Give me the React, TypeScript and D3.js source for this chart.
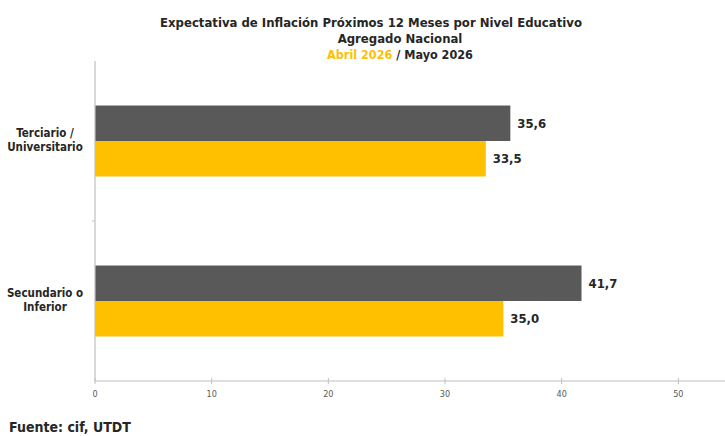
import React from "react";
import * as d3 from "d3";

const categories = ["Terciario /\nUniversitario", "Secundario o\nInferior"];
const seriesNames = ["Mayo 2026", "Abril 2026"];
const mayoValues = [35.6, 41.7];
const abrilValues = [33.5, 35.0];
const xTicks = [0, 10, 20, 30, 40, 50];
const seriesColors = ["#595959", "#FFC000"];

const W = 725;
const H = 436;
const FONT = "'DejaVu Sans Condensed', 'DejaVu Sans', sans-serif";

export default function App() {
  const x = d3.scaleLinear().domain([0, 54]).range([95, 725]);
  const y = d3.scaleBand<string>().domain(categories).range([61, 381]).paddingInner(0).paddingOuter(0);
  const y1 = d3
    .scaleBand<string>()
    .domain(seriesNames)
    .range([0, y.bandwidth()])
    .paddingInner(0)
    .paddingOuter(1.254);
  const values = [mayoValues, abrilValues];
  const fmt = (v: number) => v.toFixed(1).replace(".", ",");

  return (
    <svg width={W} height={H} style={{ position: "absolute", left: 0, top: 0, background: "#fff" }}>
      <rect width={W} height={H} fill="#fff" />
      {/* title */}
      <text x={371} y={27} textAnchor="middle" fontFamily={FONT} fontWeight="bold" fontSize={13} fill="#262626">
        Expectativa de Inflación Próximos 12 Meses por Nivel Educativo
      </text>
      <text x={400} y={43} textAnchor="middle" fontFamily={FONT} fontWeight="bold" fontSize={13} fill="#262626">
        Agregado Nacional
      </text>
      <text x={400} y={59} textAnchor="middle" fontFamily={FONT} fontWeight="bold" fontSize={12.5} fill="#262626">
        <tspan fill="#FFC000">Abril 2026</tspan>
        <tspan> / Mayo 2026</tspan>
      </text>

      {/* bars */}
      {categories.map((c, ci) => (
        <g key={c} transform={`translate(0,${y(c)})`}>
          {seriesNames.map((s, si) => {
            const v = values[si][ci];
            const by = y1(s)!;
            return (
              <g key={s}>
                <rect x={x(0)} y={by} width={x(v) - x(0)} height={y1.bandwidth()} fill={seriesColors[si]} />
                <text
                  x={x(v) + 7}
                  y={by + y1.bandwidth() / 2}
                  dy="0.35em"
                  fontFamily={FONT}
                  fontWeight="bold"
                  fontSize={13}
                  fill="#262626"
                >
                  {fmt(v)}
                </text>
              </g>
            );
          })}
        </g>
      ))}

      {/* axes */}
      <line x1={x(0)} x2={x(0)} y1={61} y2={381} stroke="#c0c0c0" strokeWidth={1.2} />
      <line x1={x(0)} x2={725} y1={381} y2={381} stroke="#c0c0c0" strokeWidth={1.2} />
      <line x1={x(0) - 3} x2={x(0)} y1={221} y2={221} stroke="#c0c0c0" strokeWidth={1} />
      {xTicks.map((t) => (
        <g key={t}>
          <line x1={x(t)} x2={x(t)} y1={378} y2={384} stroke="#c0c0c0" strokeWidth={1} />
          <text x={x(t)} y={397} textAnchor="middle" fontFamily={FONT} fontSize={9} fill="#595959">
            {t}
          </text>
        </g>
      ))}

      {/* category labels */}
      {categories.map((c) => {
        const lines = c.split("\n");
        const cy = y(c)! + y.bandwidth() / 2;
        return (
          <text key={c} textAnchor="middle" fontFamily={FONT} fontWeight="bold" fontSize={11.5} fill="#262626">
            {lines.map((l, i) => (
              <tspan key={i} x={45} y={cy - 4 + i * 14}>
                {l}
              </tspan>
            ))}
          </text>
        );
      })}

      <text x={9} y={432} fontFamily={FONT} fontWeight="bold" fontSize={14} fill="#262626">
        Fuente: cif, UTDT
      </text>
    </svg>
  );
}
